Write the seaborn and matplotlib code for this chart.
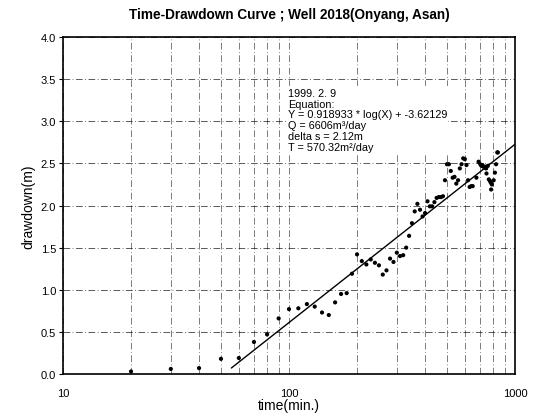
import numpy as np
import pandas as pd
import matplotlib
matplotlib.use("Agg")
import matplotlib.pyplot as plt
import seaborn as sns
from matplotlib.ticker import FixedLocator, NullFormatter, FixedFormatter

# ---- data ----
time_min = [20, 30, 40, 50, 60, 70, 80, 90, 100, 110, 120, 130, 140, 150, 160, 170, 180,
            190, 200, 210, 220, 230, 240, 250, 260, 270, 280, 290, 300, 310, 320, 330, 340,
            350, 360, 370, 380, 390, 400, 410, 420, 430, 440, 450, 460, 470, 480, 490, 500,
            510, 520, 530, 540, 550, 560, 570, 580, 590, 600, 610, 620, 630, 640, 650, 675,
            690, 702, 710, 718, 725, 735, 740, 745, 748, 758, 766, 775, 782, 784, 790, 805,
            815, 825, 835, 840]
drawdown_m = [0.03, 0.06, 0.07, 0.18, 0.19, 0.38, 0.47, 0.66, 0.77, 0.78, 0.83, 0.80, 0.73,
              0.70, 0.85, 0.95, 0.96, 1.19, 1.42, 1.34, 1.30, 1.36, 1.32, 1.29, 1.18, 1.23,
              1.37, 1.33, 1.44, 1.40, 1.41, 1.50, 1.64, 1.79, 1.93, 2.02, 1.95, 1.87, 1.91,
              2.05, 1.99, 1.99, 2.04, 2.09, 2.10, 2.10, 2.11, 2.30, 2.49, 2.49, 2.41, 2.33,
              2.34, 2.26, 2.30, 2.44, 2.49, 2.56, 2.55, 2.48, 2.30, 2.22, 2.23, 2.23, 2.33,
              2.52, 2.49, 2.47, 2.48, 2.46, 2.45, 2.46, 2.44, 2.38, 2.47, 2.31, 2.29, 2.27,
              2.19, 2.25, 2.30, 2.39, 2.49, 2.63, 2.63]
fit_coef = [0.918933, -3.62129]      # Y = a*ln(X) + b
fit_range = [55.6, 1000]
y_ticks = [0.0, 0.5, 1.0, 1.5, 2.0, 2.5, 3.0, 3.5, 4.0]
x_ticks = [10, 100, 1000]
x_minor = [20, 30, 40, 50, 60, 70, 80, 90, 200, 300, 400, 500, 600, 700, 800, 900]
info_lines = ["1999. 2. 9", "Equation:", "Y = 0.918933 * log(X) + -3.62129",
              "Q = 6606m\u00b3/day", "delta s = 2.12m", "T = 570.32m\u00b2/day"]
title = "Time-Drawdown Curve ; Well 2018(Onyang, Asan)"

sns.set_theme(style="white")
plt.rcParams['font.family'] = ['Liberation Sans', 'DejaVu Sans']
plt.rcParams['text.color'] = 'black'
plt.rcParams['axes.labelcolor'] = 'black'
plt.rcParams['xtick.color'] = 'black'
plt.rcParams['ytick.color'] = 'black'

fig = plt.figure(figsize=(5.36, 4.14), dpi=100)
ax = fig.add_axes([0.1175, 0.0942, 0.8433, 0.814])

df = pd.DataFrame({"time": time_min, "drawdown": drawdown_m})
sns.scatterplot(data=df, x="time", y="drawdown", ax=ax, color="black", s=9,
                edgecolor="none", zorder=3)

fx = np.array(fit_range)
fdf = pd.DataFrame({"time": fx, "drawdown": fit_coef[0] * np.log(fx) + fit_coef[1]})
sns.lineplot(data=fdf, x="time", y="drawdown", ax=ax, color="black", lw=1.0, zorder=3)

ax.set_xscale("log")
ax.set_xlim(10, 1000)
ax.set_ylim(0, 4)
ax.xaxis.set_major_locator(FixedLocator(x_ticks))
ax.xaxis.set_major_formatter(FixedFormatter([str(v) for v in x_ticks]))
ax.xaxis.set_minor_locator(FixedLocator(x_minor))
ax.xaxis.set_minor_formatter(NullFormatter())
ax.set_yticks(y_ticks)
ax.set_yticklabels([f"{v:.1f}" for v in y_ticks])

ax.grid(True, which="major", axis="y", color="black", lw=0.6, ls=(0, (8, 3, 1, 3)), alpha=0.75)
ax.grid(True, which="both", axis="x", color="black", lw=0.6, ls=(0, (8, 3, 1, 3)), alpha=0.6)

for sp in ax.spines.values():
    sp.set_color("black")
    sp.set_linewidth(1.2)

ax.tick_params(axis="y", which="major", left=True, length=3, width=0.8, color="black",
               labelsize=8, pad=2, labelcolor="black")
ax.tick_params(axis="x", which="major", bottom=False, labelsize=8, pad=4, labelcolor="black")
ax.tick_params(axis="x", which="minor", bottom=False)

ax.set_xlabel("time(min.)", fontsize=10, labelpad=0, color="black")
ax.set_ylabel("drawdown(m)", fontsize=10, labelpad=4, color="black")
ax.set_title(title, fontsize=9.8, fontweight="heavy", pad=14, color="black")

ax.text(0.497, 0.85, "\n".join(info_lines), transform=ax.transAxes, fontsize=7.8,
        va="top", ha="left", linespacing=1.12, color="black", zorder=4,
        bbox=dict(facecolor="white", edgecolor="none", pad=1))

fig.savefig("out.png", dpi=100)
